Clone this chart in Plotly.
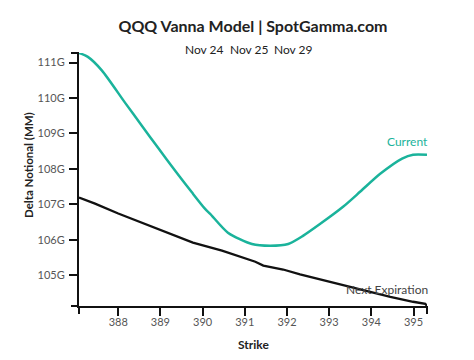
import plotly.graph_objects as go

# Data
current_strike = [387.07, 387.28, 387.61, 388.16, 388.56, 388.94, 389.35, 389.75, 390.06,
                  390.18, 390.60, 391.17, 391.60, 392.03, 392.38, 392.79, 393.33, 393.74,
                  394.21, 394.73, 394.99, 395.32]
current_value = [111.27, 111.16, 110.78, 109.87, 109.22, 108.60, 107.95, 107.33, 106.87,
                 106.73, 106.20, 105.88, 105.83, 105.88, 106.11, 106.45, 106.93, 107.36,
                 107.86, 108.29, 108.40, 108.40]

next_strike = [387.07, 387.45, 388.00, 388.94, 389.77, 390.46, 390.94, 391.25, 391.44,
               391.91, 392.31, 393.09, 393.81, 394.45, 394.99, 395.28, 395.32]
next_value = [107.19, 107.02, 106.74, 106.31, 105.92, 105.69, 105.49, 105.38, 105.27,
              105.16, 105.02, 104.79, 104.56, 104.39, 104.25, 104.19, 104.13]

x_ticks = [388, 389, 390, 391, 392, 393, 394, 395]
y_ticks = [105, 106, 107, 108, 109, 110, 111]
y_ticktext = [f"{v}G" for v in y_ticks]
dates = ["Nov 24", "Nov 25", "Nov 29"]

TEAL = "#1ab39b"
FONT = "Lato"
W, H = 474, 360
L, R, T, B = 79, 47, 53, 54
PW, PH = W - L - R, H - T - B


def px_x(p):
    return (p - L) / PW


def px_y(p):
    return 1 - (p - T) / PH


fig = go.Figure()
fig.add_trace(go.Scatter(x=current_strike, y=current_value, mode="lines",
                         line=dict(color=TEAL, width=2.5, shape="spline", smoothing=0.7),
                         name="Current", hoverinfo="x+y"))
fig.add_trace(go.Scatter(x=next_strike, y=next_value, mode="lines",
                         line=dict(color="#111111", width=2.3),
                         name="Next Expiration", hoverinfo="x+y"))

fig.update_layout(
    width=W, height=H,
    margin=dict(l=L, r=R, t=T, b=B, autoexpand=False),
    paper_bgcolor="white", plot_bgcolor="white",
    showlegend=False,
    font=dict(family=FONT, color="#444"),
    title=dict(text="<b>QQQ Vanna Model | SpotGamma.com</b>", x=253 / W, xanchor="center",
               y=1 - 26 / H, yanchor="middle", automargin=False,
               font=dict(size=16, color="#222", family=FONT)),
    xaxis=dict(range=[min(current_strike), max(current_strike)], tickvals=x_ticks,
               automargin=False,
               showgrid=False, zeroline=False, showline=True, linecolor="#111", linewidth=2,
               ticks="outside", ticklen=8, tickwidth=1.5, tickcolor="#111",
               ticklabelstandoff=-3,
               tickfont=dict(size=11, color="#555", family=FONT)),
    yaxis=dict(range=[min(next_value), max(current_value)], tickvals=y_ticks, ticktext=y_ticktext,
               automargin=False,
               showgrid=False, zeroline=False, showline=True, linecolor="#111", linewidth=2,
               ticks="outside", ticklen=8, tickwidth=1.5, tickcolor="#111",
               ticklabelstandoff=2,
               tickfont=dict(size=11, color="#555", family=FONT)),
)

# axis titles
fig.add_annotation(text="<b>Strike</b>", x=px_x(253), y=px_y(344), xref="paper", yref="paper",
                   xanchor="center", yanchor="middle", showarrow=False,
                   font=dict(size=12, color="#222", family=FONT))
fig.add_annotation(text="<b>Delta Notional (MM)</b>", x=px_x(28), y=px_y(165), xref="paper",
                   yref="paper", xanchor="center", yanchor="middle", textangle=-90,
                   showarrow=False, font=dict(size=11.5, color="#222", family=FONT))

# subtitle date labels
for d, xp in zip(dates, [204, 249, 293]):
    fig.add_annotation(text=d, x=px_x(xp), y=px_y(49), xref="paper", yref="paper",
                       xanchor="center", yanchor="middle", showarrow=False,
                       font=dict(size=12, color="#222", family=FONT))

# series labels
fig.add_annotation(text="Current", x=px_x(430), y=px_y(141), xref="paper", yref="paper",
                   xanchor="right", yanchor="middle", showarrow=False,
                   font=dict(size=12, color=TEAL, family=FONT))
fig.add_annotation(text="Next Expiration", x=px_x(430), y=px_y(289), xref="paper", yref="paper",
                   xanchor="right", yanchor="middle", showarrow=False,
                   font=dict(size=12, color="#444", family=FONT))

# outer ticks at axis ends
tick_x, tick_y = 8 / PW, 8 / PH
for x0, x1, y0, y1 in [(-tick_x, 0, 1, 1), (-tick_x, 0, 0, 0), (0, 0, -tick_y, 0), (1, 1, -tick_y, 0)]:
    fig.add_shape(type="line", xref="paper", yref="paper", x0=x0, x1=x1, y0=y0, y1=y1,
                  line=dict(color="#111", width=2))

fig.write_html("out.html", config={"displayModeBar": False},
               post_script="document.body.style.margin='0';")
